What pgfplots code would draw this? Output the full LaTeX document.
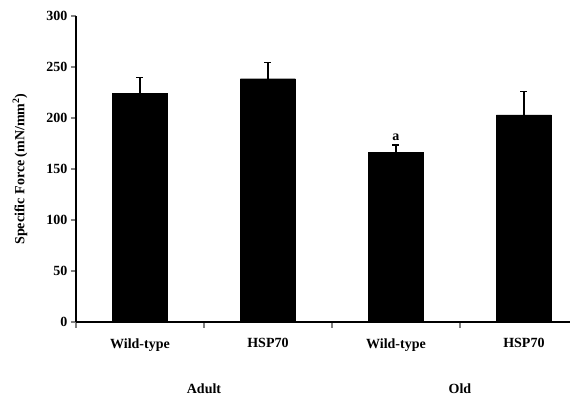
\documentclass[border=0pt]{standalone}
\usepackage{fontspec}
\setmainfont{Liberation Serif}
\usepackage{pgfplots}
\pgfplotsset{compat=1.18}
\begin{document}
\begin{tikzpicture}
\begin{axis}[
  scale only axis, width=494pt, height=306pt,
  xmin=-0.5, xmax=3.36, ymin=0, ymax=300,
  axis x line*=bottom, axis y line*=left,
  axis line style={line width=1.2pt},
  clip=false,
  ytick={0,50,...,300},
  xtick={0,1,2,3},
  xticklabels={Wild-type,HSP70,Wild-type,HSP70},
  minor xtick={-0.5,0.5,1.5,2.5},
  major x tick style={draw=none},
  minor x tick style={line width=1.2pt},
  y tick style={line width=1.2pt},
  tick align=outside,
  major tick length=5pt, minor tick length=6pt,
  /pgf/number format/assume math mode=true,
  ticklabel style={font=\bfseries\fontsize{14}{14}\selectfont},
  yticklabel style={xshift=0pt},
  xticklabel style={yshift=-8pt},
]
\coordinate (sw) at (rel axis cs:0,0);
\coordinate (ne) at (rel axis cs:1,1);
\addplot[ybar, bar width=55pt, fill=black, draw=black,
  error bars/.cd, y dir=plus, y explicit,
  error bar style={line width=1.2pt, black},
  error mark options={rotate=90, mark size=3.5pt, line width=1.2pt, black}]
  table[x=x, y=y, y error=e] {
x y e
0 224 16
1 238.5 16
2 166.5 7
3 203 23
};
\node[font=\bfseries\fontsize{14}{14}\selectfont] at (axis cs:2,181) {a};
\node[font=\bfseries\fontsize{14}{14}\selectfont] at ([yshift=-67pt]axis cs:0.5,0) {Adult};
\node[font=\bfseries\fontsize{14}{14}\selectfont] at ([yshift=-67pt]axis cs:2.5,0) {Old};
\node[rotate=90, font=\bfseries\fontsize{14}{14}\selectfont] at ([xshift=-56pt]rel axis cs:0,0.5) {Specific Force (mN/mm\textsuperscript{2})};
\end{axis}
\pgfresetboundingbox
\path ([shift={(-76pt,-76pt)}]sw) rectangle ([shift={(6pt,16pt)}]ne);
\end{tikzpicture}
\end{document}
